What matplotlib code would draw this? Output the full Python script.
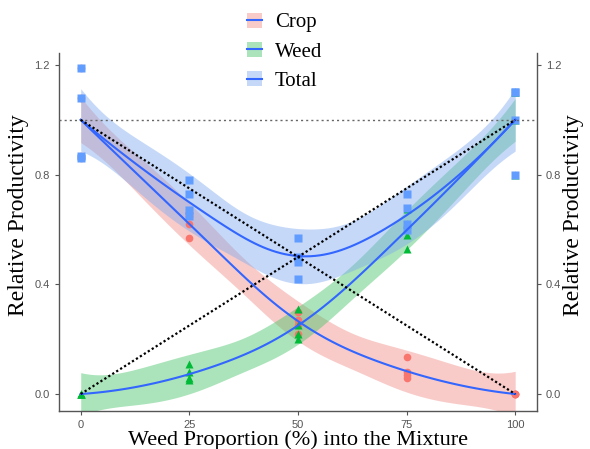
# Relative productivity of crop/weed mixtures with loess-style smooths
import numpy as np
import matplotlib
matplotlib.use("Agg")
import matplotlib.pyplot as plt
from matplotlib.patches import Patch
from matplotlib.lines import Line2D


# ── data (4 replicates per level) ──────────────────────────────────────
weed_pct = np.repeat([0, 25, 50, 75, 100], 4).astype(float)

crop_rp = np.array([1.19, 1.08, 0.86, 0.87,
                    0.66, 0.65, 0.62, 0.57,
                    0.30, 0.27, 0.25, 0.22,
                    0.135, 0.08, 0.07, 0.06,
                    0.0, 0.0, 0.0, 0.0])
weed_rp = np.array([0.0, 0.0, 0.0, 0.0,
                    0.11, 0.08, 0.06, 0.05,
                    0.31, 0.25, 0.22, 0.20,
                    0.675, 0.62, 0.58, 0.53,
                    1.10, 1.10, 1.00, 0.80])
total_rp = np.array([1.19, 1.08, 0.86, 0.87,
                     0.78, 0.73, 0.67, 0.65,
                     0.57, 0.50, 0.48, 0.42,
                     0.73, 0.68, 0.62, 0.60,
                     1.10, 1.10, 1.00, 0.80])

# expected (replacement series) lines
exp_x = [0, 100]
exp_crop = [1, 0]
exp_weed = [0, 1]

x_ticks = [0, 25, 50, 75, 100]
y_ticks = [0.0, 0.4, 0.8, 1.2]

series = [
    ("Crop",  crop_rp,  "#F8766D", "o", "#F08C88"),
    ("Weed",  weed_rp,  "#00BA38", "^", "#45C466"),
    ("Total", total_rp, "#619CFF", "s", "#7FAAF0"),
]
smooth_col = "#3366FF"


# ── local quadratic smoother (gaussian weights) with 95% band ──────────
def local_fit(x, y, grid, bw=17.0, degree=2):
    n = len(x)

    def row(x0):
        w = np.exp(-0.5 * ((x - x0) / bw) ** 2)
        X = np.vander((x - x0) / 100.0, degree + 1, increasing=True)
        XtW = X.T * w
        return np.linalg.solve(XtW @ X, XtW)[0]

    L = np.array([row(v) for v in x])
    G = np.array([row(v) for v in grid])
    fit = G @ y
    res = y - L @ y
    M = (np.eye(n) - L).T @ (np.eye(n) - L)
    d1, d2 = np.trace(M), np.trace(M @ M)
    sigma = np.sqrt(res @ res / d1)
    df = d1 ** 2 / d2
    z = 1.959964
    t = z + (z ** 3 + z) / (4 * df) + (5 * z ** 5 + 16 * z ** 3 + 3 * z) / (96 * df ** 2)
    se = sigma * np.sqrt((G ** 2).sum(axis=1))
    return fit, fit - t * se, fit + t * se


# ── figure ──────────────────────────────────────────────────────────────
fig = plt.figure(figsize=(5.9, 4.49), dpi=100)
ax = fig.add_axes([0.100, 0.0846, 0.810, 0.7974])

grid = np.linspace(0, 100, 101)
handles = []
for name, vals, col, mk, band in series:
    fit, lo, hi = local_fit(weed_pct, vals, grid)
    ax.fill_between(grid, lo, hi, color=band, alpha=0.45, lw=0, zorder=1)
    ax.plot(weed_pct, vals, mk, color=col, ms=5.5, mec="none", zorder=2)
    ax.plot(grid, fit, color=smooth_col, lw=1.5, zorder=3)
    handles.append((Patch(facecolor=band, alpha=0.45, edgecolor="none"),
                    Line2D([], [], color=smooth_col, lw=1.5)))

ax.axhline(1.0, color="#666666", lw=1.0, ls=(0, (1.5, 2.2)), zorder=4)
ax.plot(exp_x, exp_crop, color="black", lw=1.6, ls=(0, (1, 1.1)), zorder=5)
ax.plot(exp_x, exp_weed, color="black", lw=1.6, ls=(0, (1, 1.1)), zorder=5)

ax.set_xlim(-5, 105)
ax.set_ylim(-0.062, 1.244)
ax.set_xticks(x_ticks)
ax.set_yticks(y_ticks)
ax.set_yticklabels([f"{v:.1f}" for v in y_ticks])

for s in ["left", "bottom", "right"]:
    ax.spines[s].set_color("#555555")
    ax.spines[s].set_linewidth(1.0)
ax.spines["top"].set_visible(False)
ax.tick_params(axis="both", colors="#555555", labelcolor="#555555",
               labelsize=8, length=3, width=0.8)
ax.tick_params(axis="y", left=True, right=True, labelleft=True, labelright=True)
for lab in ax.get_xticklabels() + ax.get_yticklabels():
    lab.set_family("Liberation Sans")

serif = "Liberation Serif"
ax.set_xlabel("Weed Proportion (%) into the Mixture", family=serif,
              fontsize=16, labelpad=0)
fig.text(0.031, 0.521, "Relative Productivity", family=serif, fontsize=17,
         rotation=90, ha="center", va="center")
fig.text(0.972, 0.521, "Relative Productivity", family=serif, fontsize=17,
         rotation=90, ha="center", va="center")

fig.legend(handles, [s[0] for s in series], loc="upper left",
           bbox_to_anchor=(0.418, 0.972), frameon=False,
           prop={"family": serif, "size": 15}, handlelength=0.75,
           handleheight=0.75, handletextpad=0.6, labelspacing=0.45,
           borderpad=0, borderaxespad=0)

fig.savefig("out.png", dpi=100)
